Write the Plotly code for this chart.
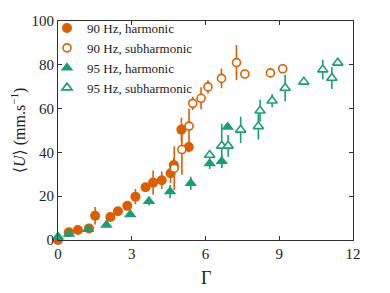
import plotly.graph_objects as go

# 90 Hz, harmonic
h90_x = [0.0, 0.44, 0.81, 1.26, 1.51, 2.13, 2.44, 2.82, 3.15, 3.56, 3.87, 4.22, 4.58, 4.71, 5.02, 5.32]
h90_y = [0.0, 3.5, 4.6, 5.3, 11.1, 10.5, 13.1, 15.6, 19.8, 24.1, 26.2, 27.3, 30.5, 34.2, 50.4, 42.5]
h90_e = [0.3, 0.5, 0.5, 1.0, 4.0, 1.0, 1.0, 2.0, 3.5, 2.0, 5.5, 4.0, 4.5, 3.0, 5.5, 2.5]

# 90 Hz, subharmonic
s90_x = [4.73, 5.04, 5.33, 5.48, 5.82, 6.10, 6.65, 7.26, 7.60, 8.64, 9.14]
s90_y = [32.8, 41.3, 52.0, 62.4, 64.7, 69.9, 73.8, 81.0, 75.8, 76.3, 78.2]
s90_e = [10.0, 11.5, 8.0, 3.0, 5.0, 3.0, 4.5, 8.0, 0.0, 0.0, 0.0]

# 95 Hz, harmonic
h95_x = [0.0, 0.45, 1.22, 1.97, 2.94, 3.70, 4.56, 5.40, 6.17, 6.66, 6.90]
h95_y = [1.5, 2.7, 4.9, 6.9, 11.7, 17.7, 22.1, 25.9, 34.9, 36.0, 51.6]
h95_e = [0.0, 1.0, 0.5, 0.0, 0.5, 2.0, 3.0, 3.0, 2.5, 3.0, 0.0]

# 95 Hz, subharmonic
s95_x = [6.17, 6.66, 6.92, 7.43, 8.15, 8.22, 8.71, 9.24, 10.00, 10.77, 11.14, 11.38]
s95_y = [38.8, 43.0, 43.0, 50.3, 51.9, 59.0, 63.6, 69.4, 72.2, 77.8, 74.0, 80.9]
s95_e = [0.0, 10.0, 5.0, 6.0, 6.0, 5.0, 3.0, 6.0, 0.0, 4.5, 5.0, 0.0]

x_ticks = [0, 3, 6, 9, 12]
y_ticks = [0, 20, 40, 60, 80, 100]

ORANGE = "#D95F02"
GREEN = "#1B9E77"
FONT = "Liberation Serif, DejaVu Serif, serif"

fig = go.Figure()

def add(x, y, e, name, color, symbol, filled, size):
    fig.add_trace(go.Scatter(
        x=x, y=y, mode="markers", name=name, cliponaxis=False,
        error_y=dict(type="data", array=e, visible=True, thickness=1.6, width=0, color=color),
        marker=dict(
            symbol=symbol, size=size,
            color=color if filled else "white",
            line=dict(color=color, width=0 if filled else 1.6),
        ),
    ))

add(h90_x, h90_y, h90_e, "90 Hz, harmonic", ORANGE, "circle", True, 10)
add(s90_x, s90_y, s90_e, "90 Hz, subharmonic", ORANGE, "circle", False, 8)
add(h95_x, h95_y, h95_e, "95 Hz, harmonic", GREEN, "triangle-up", True, 11)
add(s95_x, s95_y, s95_e, "95 Hz, subharmonic", GREEN, "triangle-up", False, 9)

axis_common = dict(
    showline=True, linecolor="#333", linewidth=1, mirror="ticks",
    ticks="inside", ticklen=4, tickcolor="#333", showgrid=False, zeroline=False,
    tickfont=dict(family=FONT, size=15, color="#222"), automargin=False,
)

# page has an 8px body margin, so the figure is drawn 8px right/down
W, H = 382, 285
ML, MR, MT, MB = 12, 37, 0, 53
PW, PH = W - ML - MR, H - MT - MB
X0 = (50 - ML) / PW

fig.update_layout(
    width=W, height=H,
    margin=dict(l=ML, r=MR, t=MT, b=MB),
    paper_bgcolor="white", plot_bgcolor="white",
    font=dict(family=FONT, color="#222"),
    showlegend=True,
    legend=dict(
        x=(39 - ML) / PW, y=1 - 5 / PH, xanchor="left", yanchor="top",
        bgcolor="rgba(0,0,0,0)", borderwidth=0,
        font=dict(family=FONT, size=13, color="#222"),
        tracegroupgap=0, itemwidth=30,
    ),
    xaxis=dict(range=[0, 12], tickvals=x_ticks, domain=[X0, 1], **axis_common),
    yaxis=dict(range=[0, 100], tickvals=y_ticks, domain=[0, 1 - (13 - MT) / PH],
               title=dict(text="⟨<i>U</i>⟩ (mm.s<sup>−1</sup>)", font=dict(family=FONT, size=16), standoff=4),
               **axis_common),
    annotations=[dict(
        text="Γ", xref="paper", yref="paper",
        x=(X0 + 1) / 2, y=-38 / PH, xanchor="center", yanchor="middle",
        showarrow=False, font=dict(family=FONT, size=18, color="#222"),
    )],
)

fig.write_html("out.html")
